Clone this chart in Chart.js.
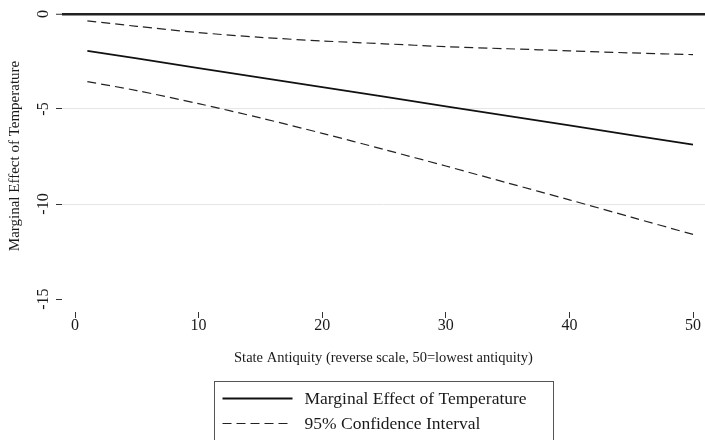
<!DOCTYPE html>
<html>
<head>
<meta charset="utf-8">
<script src="https://cdn.jsdelivr.net/npm/chart.js@4/dist/chart.umd.min.js"></script>
<style>
  html, body { margin: 0; padding: 0; background: #fff; }
  #wrap { width: 705px; height: 440px; }
</style>
</head>
<body>
<div id="wrap"><canvas id="grafico" width="705" height="440"></canvas></div>
<script>
// antiquity values where the effect was evaluated
let antiquity = [1, 5, 10, 15, 20, 25, 30, 35, 40, 45, 50];
let marginalEffect = [-1.94, -2.34, -2.85, -3.35, -3.85, -4.35, -4.86, -5.36, -5.86, -6.37, -6.87];
let ciUpper = [-0.36, -0.65, -0.98, -1.23, -1.42, -1.57, -1.72, -1.83, -1.94, -2.05, -2.14];
let ciLower = [-3.56, -4.03, -4.72, -5.47, -6.28, -7.13, -8.0, -8.89, -9.78, -10.69, -11.6];

let xTicks = [0, 10, 20, 30, 40, 50];
let yTicks = [-15, -10, -5, 0];

let labels = {
  effect: "Marginal Effect of Temperature",
  ci: "95% Confidence Interval",
  xTitle: "State Antiquity (reverse scale, 50=lowest antiquity)",
  yTitle: "Marginal Effect of Temperature",
};

const serif = "'Liberation Serif', 'Times New Roman', serif";
const ink = "#1a1a1a";

function toPoints(values) {
  return antiquity.map((x, i) => ({ x: x, y: values[i] }));
}

// boxed legend under the axis title, Stata style
const boxLegend = {
  id: "boxLegend",
  afterDraw(chart) {
    let ctx = chart.ctx;
    let area = chart.chartArea;
    let boxW = 339;
    let left = Math.round((area.left + area.right) / 2 - boxW / 2) + 0.5;
    let top = Math.round(chart.scales.x.bottom + 15) + 0.5;

    ctx.save();
    ctx.strokeStyle = "#555";
    ctx.lineWidth = 1;
    ctx.strokeRect(left, top, boxW, 80);

    let seen = {};
    let row = 0;
    chart.data.datasets.forEach((ds) => {
      if (seen[ds.label]) return;
      seen[ds.label] = true;
      let y = top + 17 + row * 25;
      ctx.beginPath();
      ctx.strokeStyle = ds.borderColor;
      ctx.lineWidth = ds.borderWidth;
      ctx.setLineDash(ds.borderDash || []);
      ctx.moveTo(left + 8, y);
      ctx.lineTo(left + 78, y);
      ctx.stroke();
      ctx.setLineDash([]);
      ctx.fillStyle = ink;
      ctx.font = "17.5px " + serif;
      ctx.textBaseline = "middle";
      ctx.textAlign = "left";
      ctx.fillText(ds.label, left + 90, y + 1);
      row++;
    });
    ctx.restore();
  },
};

new Chart(document.getElementById("grafico"), {
  type: "line",
  data: {
    datasets: [
      {
        label: labels.effect,
        data: toPoints(marginalEffect),
        borderColor: "#111",
        borderWidth: 1.8,
        pointRadius: 0,
        tension: 0,
      },
      {
        label: labels.ci,
        data: toPoints(ciUpper),
        borderColor: "#222",
        borderWidth: 1.2,
        borderDash: [9, 5],
        pointRadius: 0,
        tension: 0.3,
      },
      {
        label: labels.ci,
        data: toPoints(ciLower),
        borderColor: "#222",
        borderWidth: 1.2,
        borderDash: [9, 5],
        pointRadius: 0,
        tension: 0.3,
      },
    ],
  },
  options: {
    responsive: false,
    animation: false,
    events: [],
    layout: { padding: { left: 0, right: 0, top: 0, bottom: 73.6 } },
    plugins: {
      legend: { display: false },
      tooltip: { enabled: false },
    },
    scales: {
      x: {
        type: "linear",
        min: -1.052,
        max: 50.97,
        afterBuildTicks: (scale) => {
          scale.ticks = xTicks.map((v) => ({ value: v }));
        },
        afterFit: (scale) => {
          scale.paddingLeft = 0;
          scale.paddingRight = 0;
        },
        border: { display: false },
        grid: {
          drawOnChartArea: false,
          tickLength: 6,
          tickColor: "#333",
          tickWidth: 1,
        },
        ticks: {
          padding: 0,
          color: ink,
          maxRotation: 0,
          font: { family: serif, size: 16, lineHeight: 1 },
        },
        title: {
          display: true,
          text: labels.xTitle,
          color: ink,
          padding: { top: 15, bottom: 0 },
          font: { family: serif, size: 14.5, lineHeight: 1.2 },
        },
      },
      y: {
        type: "linear",
        min: -15.68,
        max: 0.734,
        afterBuildTicks: (scale) => {
          scale.ticks = yTicks.map((v) => ({ value: v }));
        },
        afterFit: (scale) => {
          scale.width = 62;
          scale.paddingTop = 0;
          scale.paddingBottom = 0;
        },
        border: { display: false },
        grid: {
          tickLength: 6,
          tickColor: "#333",
          tickWidth: 1,
          color: (c) => {
            let v = c.tick && c.tick.value;
            if (v === 0) return "#222";
            if (v === -5 || v === -10) return "#e6e6e6";
            return "rgba(0,0,0,0)";
          },
          lineWidth: (c) => (c.tick && c.tick.value === 0 ? 2.5 : 1),
        },
        ticks: {
          padding: 2,
          color: ink,
          minRotation: 90,
          maxRotation: 90,
          crossAlign: "center",
          font: { family: serif, size: 16, lineHeight: 1 },
        },
        title: {
          display: true,
          text: labels.yTitle,
          color: ink,
          padding: { top: 6, bottom: 0 },
          font: { family: serif, size: 15, lineHeight: 1.2 },
        },
      },
    },
  },
  plugins: [boxLegend],
});
</script>
</body>
</html>
